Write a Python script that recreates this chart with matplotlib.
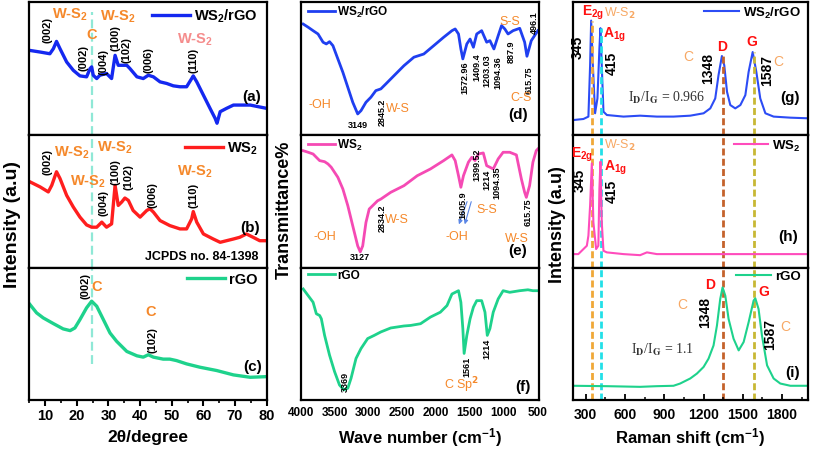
import matplotlib
matplotlib.use('Agg')
import matplotlib.pyplot as plt
from matplotlib.ticker import MultipleLocator

plt.rcParams['font.family'] = ['Liberation Sans', 'DejaVu Sans']
plt.rcParams['font.weight'] = 'bold'
plt.rcParams['mathtext.fontset'] = 'custom'
plt.rcParams['mathtext.rm'] = 'Liberation Sans:bold'
plt.rcParams['mathtext.bf'] = 'Liberation Sans:bold'
plt.rcParams['mathtext.it'] = 'Liberation Sans:bold:italic'
plt.rcParams['mathtext.default'] = 'rm'

# ---------------- data ----------------
# XRD, 2theta (deg) / intensity (a.u., 0-100 per panel)
xrd_ws2rgo_2t = [5.2, 8.4, 11.5, 12.6, 13.6, 14.7, 16.8, 18.9, 21.0, 23.1, 24.2, 24.7, 25.2, 26.3,
                 27.3, 29.4, 31.0, 32.1, 33.1, 34.7, 35.8, 36.8, 39.0, 41.0, 42.6, 44.2, 46.3, 48.4,
                 50.5, 52.6, 54.7, 56.3, 56.8, 57.9, 60.0, 62.1, 63.7, 64.3, 65.3, 67.3, 69.5, 74.8, 80.0]
xrd_ws2rgo_i = [63.7, 62.5, 61.2, 65.0, 70.5, 65.0, 55.0, 48.7, 44.5, 43.8, 50.0, 51.3, 45.0, 42.5,
                45.0, 46.3, 42.5, 60.0, 52.5, 52.5, 52.5, 50.0, 43.8, 42.5, 45.0, 43.8, 40.0, 38.8,
                37.0, 36.3, 36.3, 42.5, 44.5, 40.0, 30.0, 20.0, 12.5, 8.8, 17.5, 20.0, 22.5, 22.5, 20.0]

xrd_ws2_2t = [5.2, 8.4, 11.0, 12.1, 13.6, 14.7, 16.8, 18.9, 21.0, 23.1, 24.7, 26.3, 27.9, 29.4,
              31.0, 32.1, 33.1, 34.2, 35.2, 36.3, 37.8, 40.0, 42.1, 43.1, 44.2, 46.3, 49.4, 52.6,
              54.7, 56.3, 56.8, 57.9, 60.0, 63.1, 65.3, 67.3, 69.5, 71.5, 73.6, 75.7, 77.8, 80.0]
xrd_ws2_i = [64.6, 60.8, 57.0, 62.0, 72.2, 67.1, 54.4, 45.6, 38.0, 32.1, 30.4, 30.4, 34.2, 30.4,
             32.9, 62.0, 46.8, 49.4, 52.4, 50.6, 43.0, 38.0, 43.0, 44.3, 41.8, 35.4, 31.6, 29.1,
             29.1, 36.7, 42.2, 34.2, 25.3, 21.5, 19.0, 20.2, 21.5, 22.8, 25.3, 22.8, 20.2, 20.2]

xrd_rgo_2t = [5.2, 7.3, 9.4, 12.6, 15.7, 17.9, 19.4, 21.0, 23.1, 24.7, 26.3, 28.4, 30.5, 32.6,
              35.8, 39.0, 41.0, 42.6, 44.2, 47.3, 49.4, 51.5, 54.7, 58.9, 64.2, 69.5, 74.8, 80.0]
xrd_rgo_i = [72.1, 65.8, 62.0, 57.7, 53.7, 52.4, 54.4, 60.7, 69.6, 74.6, 70.8, 60.7, 50.6, 44.3,
             36.7, 33.4, 32.4, 34.2, 32.4, 30.9, 30.9, 29.8, 27.3, 24.8, 22.3, 19.0, 17.2, 17.7]

# FTIR, wavenumber (cm-1) / transmittance (0-100 per panel)
ftir_ws2rgo_wn = [3963, 3890, 3817, 3744, 3670, 3622, 3574, 3524, 3451, 3377, 3304, 3231, 3158, 3109,
                  3036, 2963, 2890, 2816, 2743, 2621, 2475, 2328, 2182, 2035, 1889, 1766, 1718, 1669,
                  1634, 1605, 1546, 1498, 1449, 1400, 1327, 1253, 1205, 1146, 1083, 1033, 985, 937,
                  863, 765, 692, 658, 594, 546, 497]
ftir_ws2rgo_t = [83.6, 81.2, 78.6, 76.1, 69.9, 68.6, 70.3, 67.3, 57.3, 47.2, 35.9, 24.6, 15.8, 18.3,
                 24.6, 28.4, 33.4, 34.7, 38.4, 44.7, 52.2, 58.6, 61.0, 67.3, 73.6, 78.6, 79.9, 76.1,
                 64.8, 57.3, 68.6, 72.3, 66.1, 76.1, 78.6, 69.9, 71.1, 64.8, 74.8, 82.4, 79.9, 76.1,
                 78.6, 80.4, 69.9, 59.3, 71.1, 74.8, 78.6]

ftir_ws2_wn = [3963, 3890, 3817, 3769, 3720, 3647, 3597, 3549, 3451, 3377, 3304, 3231, 3158, 3120,
               3084, 3036, 2988, 2938, 2865, 2816, 2670, 2475, 2279, 2084, 1889, 1766, 1718, 1669,
               1634, 1596, 1523, 1473, 1425, 1376, 1303, 1253, 1205, 1156, 1083, 1010, 912, 814,
               740, 692, 667, 619, 570, 521, 497]
ftir_ws2_t = [88.1, 86.9, 85.6, 83.1, 80.6, 79.8, 78.1, 75.6, 68.0, 59.2, 46.6, 31.4, 16.3, 11.8,
              16.3, 34.0, 44.1, 46.6, 50.3, 51.6, 56.7, 61.7, 69.2, 74.3, 80.6, 84.9, 80.6, 69.2,
              60.5, 69.2, 79.4, 83.1, 80.6, 85.6, 86.4, 76.8, 75.6, 74.3, 81.9, 86.9, 86.9, 84.9,
              66.7, 56.7, 52.9, 61.7, 79.4, 88.1, 89.4]

ftir_rgo_wn = [3963, 3890, 3817, 3769, 3720, 3695, 3647, 3574, 3500, 3427, 3363, 3304, 3256, 3183,
               3109, 3011, 2914, 2816, 2670, 2475, 2377, 2230, 2084, 1937, 1839, 1766, 1669, 1634,
               1605, 1586, 1546, 1498, 1449, 1400, 1327, 1278, 1244, 1205, 1156, 1083, 1010, 912,
               765, 644, 570, 497]
ftir_rgo_t = [83.8, 78.8, 73.8, 65.1, 63.8, 61.3, 48.8, 33.9, 21.5, 11.4, 7.7, 9.0, 16.5, 31.4,
              38.9, 46.4, 48.8, 51.4, 54.4, 55.9, 56.3, 57.6, 62.6, 66.3, 71.3, 80.0, 82.5, 73.8,
              53.9, 35.2, 48.8, 61.3, 70.1, 75.0, 75.0, 66.3, 48.8, 53.9, 66.3, 76.3, 82.5, 81.3,
              82.5, 83.2, 82.5, 82.5]

# Raman, shift (cm-1) / intensity (0-100 per panel)
raman_ws2rgo_x = [205, 282, 320, 333, 341, 354, 371, 389, 404, 412, 422, 435, 461, 588, 715, 843,
                  970, 1098, 1200, 1251, 1289, 1314, 1340, 1358, 1379, 1404, 1442, 1481, 1519, 1544,
                  1575, 1603, 1633, 1672, 1735, 1863, 2003]
raman_ws2rgo_i = [11.2, 12.0, 13.8, 52.5, 86.2, 52.5, 16.3, 27.5, 65.0, 80.5, 52.5, 17.5, 15.0, 13.8,
                  14.5, 13.8, 13.8, 14.5, 16.3, 20.0, 27.5, 45.0, 59.5, 52.5, 32.5, 22.5, 20.0, 22.5,
                  30.0, 47.5, 62.5, 47.5, 27.5, 16.3, 13.8, 13.0, 12.5]

raman_ws2_x = [205, 243, 282, 308, 320, 333, 346, 358, 379, 396, 404, 412, 422, 435, 461, 588, 715,
               767, 843, 970, 1226, 1480, 1735, 2003]
raman_ws2_i = [10.1, 10.1, 13.9, 16.4, 24.0, 46.8, 78.5, 34.2, 13.9, 16.4, 59.5, 79.8, 34.2, 12.6,
               11.4, 10.1, 9.3, 11.4, 10.1, 10.1, 10.1, 10.1, 10.1, 10.1]

raman_rgo_x = [205, 461, 715, 843, 970, 1021, 1098, 1149, 1200, 1238, 1276, 1302, 1327, 1345, 1366,
               1391, 1429, 1468, 1506, 1544, 1582, 1595, 1620, 1646, 1685, 1735, 1786, 1863, 2003]
raman_rgo_i = [10.8, 10.5, 10.0, 10.5, 10.8, 12.5, 16.3, 20.0, 25.0, 31.3, 41.2, 56.2, 76.2, 85.0,
               78.7, 61.2, 46.3, 37.5, 43.8, 58.7, 75.0, 76.8, 68.7, 48.7, 26.2, 16.3, 12.5, 10.8, 10.8]

# reference band positions
xrd_c002 = 24.7
raman_bands = [345, 415, 1348, 1587]
raman_band_tops_g = [86.2, 80.5, 59.5, 62.5]

# ---------------- figure ----------------
W, H = 813, 452
fig = plt.figure(figsize=(W / 100, H / 100), dpi=100)

col_x = [29.3, 300.7, 572.7]
col_r = [266.7, 539.0, 808.3]
top, ph = 3.3, 132.6


def make_ax(c, r):
    l = col_x[c] / W
    w = (col_r[c] - col_x[c]) / W
    b = 1 - (top + (r + 1) * ph) / H
    ax = fig.add_axes([l, b, w, ph / H])
    for s in ax.spines.values():
        s.set_linewidth(1.6)
    ax.set_yticks([])
    ax.set_ylim(0, 100)
    if r < 2:
        ax.tick_params(axis='x', which='both', bottom=False, labelbottom=False)
    return ax


def ftext(px, py, s, **kw):
    kw.setdefault('ha', 'center')
    kw.setdefault('va', 'center')
    return fig.text(px / W, 1 - py / H, s, **kw)


BLUE = '#1428f0'
RED = '#ff1e1e'
GREEN = '#1ed28c'
PINK = '#f54ab4'
ORANGE = '#f5882a'
LORANGE = '#f7a864'
RRED = '#ff1010'

# ---------- XRD column ----------
xrd = [(xrd_ws2rgo_2t, xrd_ws2rgo_i, BLUE, 'WS$_2$/rGO'),
       (xrd_ws2_2t, xrd_ws2_i, RED, 'WS$_2$'),
       (xrd_rgo_2t, xrd_rgo_i, GREEN, 'rGO')]
cyan_rng = [(0, 0.925), (0, 1), (0.27, 1)]
for r, (x, y, col, lab) in enumerate(xrd):
    ax = make_ax(0, r)
    ax.set_xlim(5, 80)
    ax.axvline(xrd_c002, ymin=cyan_rng[r][0], ymax=cyan_rng[r][1], color='#8fe8d6',
               lw=1.6, ls=(0, (4, 2)), zorder=1)
    ax.plot(x, y, color=col, lw=2.4, label=lab, zorder=2)
    ax.legend(loc='upper right', bbox_to_anchor=(1.0, 1.03), frameon=False, fontsize=10.5,
              handlelength=2.6, handletextpad=0.3, borderaxespad=0.2)
    if r == 2:
        ax.xaxis.set_major_locator(MultipleLocator(10))
        ax.xaxis.set_minor_locator(MultipleLocator(5))
        ax.tick_params(axis='x', which='major', direction='out', length=4, width=1.5,
                       labelsize=10.5, pad=2)
        ax.tick_params(axis='x', which='minor', direction='out', length=2.5, width=1.2)

# ---------- FTIR column ----------
ftir = [(ftir_ws2rgo_wn, ftir_ws2rgo_t, '#1f3ff0', 'WS$_2$/rGO'),
        (ftir_ws2_wn, ftir_ws2_t, PINK, 'WS$_2$'),
        (ftir_rgo_wn, ftir_rgo_t, GREEN, 'rGO')]
for r, (x, y, col, lab) in enumerate(ftir):
    ax = make_ax(1, r)
    ax.set_xlim(4000, 480)
    ax.plot(x, y, color=col, lw=2.0, label=lab)
    ax.legend(loc='upper left', bbox_to_anchor=(0.0, 1.04), frameon=False, fontsize=8.5,
              handlelength=2.3, handletextpad=0.2, borderaxespad=0.2)
    if r == 2:
        ax.set_xticks([4000, 3500, 3000, 2500, 2000, 1500, 1000, 500])
        ax.tick_params(axis='x', length=0, labelsize=8.5, pad=4)

# ---------- Raman column ----------
raman = [(raman_ws2rgo_x, raman_ws2rgo_i, '#2c4cf5', 'WS$_2$/rGO'),
         (raman_ws2_x, raman_ws2_i, '#ff4cbc', 'WS$_2$'),
         (raman_rgo_x, raman_rgo_i, GREEN, 'rGO')]
band_cols = ['#f0a838', '#22e0e8', '#c4622c', '#c8b834']
for r, (x, y, col, lab) in enumerate(raman):
    ax = make_ax(2, r)
    ax.set_xlim(200, 2000)
    for k, bx in enumerate(raman_bands):
        ymax = raman_band_tops_g[k] / 100 if r == 0 else 1
        ax.axvline(bx, ymin=0, ymax=ymax, color=band_cols[k], lw=2.0, ls=(0, (2.5, 1.2)),
                   zorder=3 if r == 0 else 1)
    ax.plot(x, y, color=col, lw=1.5, label=lab, zorder=2)
    ax.legend(loc='upper right', bbox_to_anchor=(1.0, 1.04), frameon=False, fontsize=9.5,
              handlelength=2.6, handletextpad=0.3, borderaxespad=0.2)
    if r == 2:
        ax.xaxis.set_major_locator(MultipleLocator(300))
        ax.xaxis.set_minor_locator(MultipleLocator(150))
        ax.tick_params(axis='x', which='major', direction='in', length=4, width=1.3,
                       labelsize=10, pad=5)
        ax.tick_params(axis='x', which='minor', direction='in', length=2.5, width=1.1)

# ---------- axis titles ----------
ftext(13, 225, 'Intensity (a.u)', rotation=90, fontsize=14)
ftext(284, 210, 'Transmittance%', rotation=90, fontsize=13)
ftext(557, 225, 'Intensity (a.u)', rotation=90, fontsize=13)
ftext(148, 438, '2θ/degree', fontsize=12.5)
ftext(420, 438, 'Wave number (cm$^{-1}$)', fontsize=12)
ftext(690, 438, 'Raman shift (cm$^{-1}$)', fontsize=12)

# ---------- XRD annotations ----------
mk = dict(rotation=90, fontsize=8)
# (a)
ftext(70, 15, 'W-S$_2$', color=ORANGE, fontsize=10.5)
ftext(118, 17, 'W-S$_2$', color=ORANGE, fontsize=10.5)
ftext(92, 35, 'C', color=ORANGE, fontsize=10.5)
ftext(195, 40, 'W-S$_2$', color='#f58c8c', fontsize=10.5)
ftext(47, 30, '(002)', **mk)
ftext(83, 58, '(002)', **mk)
ftext(103, 62, '(004)', **mk)
ftext(115, 38, '(100)', **mk)
ftext(127, 50, '(102)', **mk)
ftext(148, 60, '(006)', **mk)
ftext(193, 60, '(110)', **mk)
ftext(252, 97, '(a)', fontsize=11)
# (b)
ftext(47, 162, '(002)', **mk)
ftext(72, 153, 'W-S$_2$', color=ORANGE, fontsize=10.5)
ftext(115, 148, 'W-S$_2$', color=ORANGE, fontsize=10.5)
ftext(88, 182, 'W-S$_2$', color=ORANGE, fontsize=10.5)
ftext(115, 172, '(100)', **mk)
ftext(128, 177, '(102)', **mk)
ftext(103, 203, '(004)', **mk)
ftext(152, 195, '(006)', **mk)
ftext(195, 172, 'W-S$_2$', color=ORANGE, fontsize=10.5)
ftext(193, 195, '(110)', **mk)
ftext(250, 228, '(b)', fontsize=11)
ftext(202, 257, 'JCPDS no. 84-1398', fontsize=9)
# (c)
ftext(85, 286, '(002)', **mk)
ftext(97, 287, 'C', color=ORANGE, fontsize=10.5)
ftext(151, 312, 'C', color=ORANGE, fontsize=10.5)
ftext(152, 340, '(102)', **mk)
ftext(253, 367, '(c)', fontsize=11)

# ---------- FTIR annotations ----------
sm = dict(fontsize=6.5)
smr = dict(fontsize=6.5, rotation=90)
oo = dict(color=ORANGE, fontsize=9, fontweight='normal')
# (d)
ftext(320, 105, '-OH', **oo)
ftext(358, 126, '3149', **sm)
ftext(382, 112, '2845.2', **smr)
ftext(398, 109, 'W-S', **oo)
ftext(465, 78, '1572.96', **smr)
ftext(477, 67, '1409.4', **smr)
ftext(487, 71, '1203.03', **smr)
ftext(498, 73, '1094.36', **smr)
ftext(511, 52, '887.9', **smr)
ftext(510, 22, 'S-S', **oo)
ftext(534, 23, '496.1', **smr)
ftext(529, 80, '615.75', **smr)
ftext(521, 98, 'C-S', **oo)
ftext(518, 115, '(d)', fontsize=11)
# (e)
ftext(325, 237, '-OH', **oo)
ftext(360, 258, '3127', **sm)
ftext(382, 218, '2834.2', **smr)
ftext(397, 220, 'W-S', **oo)
ftext(463, 205, '1605.9', **smr)
ftext(457, 237, '-OH', **oo)
ftext(477, 165, '1399.52', **smr)
ftext(487, 180, '1214', **smr)
ftext(497, 183, '1094.35', **smr)
ftext(487, 210, 'S-S', **oo)
ftext(528, 212, '615.75', **smr)
ftext(517, 239, 'W-S', **oo)
ftext(518, 251, '(e)', fontsize=11)
for (x0, y0, x1, y1) in [(468, 200, 458, 228), (472, 200, 464, 228)]:
    fig.add_artist(matplotlib.patches.FancyArrowPatch(
        (x0 / W, 1 - y0 / H), (x1 / W, 1 - y1 / H), transform=fig.transFigure,
        arrowstyle='-|>', mutation_scale=6, color='#5a86e6', lw=0.8))
# (f)
ftext(345, 382, '3369', **smr)
ftext(467, 367, '1561', **smr)
ftext(487, 349, '1214', **smr)
ftext(462, 385, 'C Sp$^2$', color=ORANGE, fontsize=9, fontweight='normal',
      math_fontfamily='dejavusans')
ftext(523, 387, '(f)', fontsize=11)

# ---------- Raman annotations ----------
rr = dict(color=RRED, fontsize=10)
nr = dict(rotation=90, fontsize=10)
oc = dict(color=LORANGE, fontsize=10, fontweight='normal')
ser = dict(family='Liberation Serif', fontweight='normal', fontsize=10,
           math_fontfamily='stix', color='#333333')
# (g)
ftext(593, 13, 'E$_{2g}$', **rr)
ftext(620, 13, 'W-S$_2$', color=LORANGE, fontsize=9, fontweight='normal',
      math_fontfamily='dejavusans')
ftext(614, 35, 'A$_{1g}$', **rr)
ftext(578, 47, '345', **nr)
ftext(612, 63, '415', **nr)
ftext(688, 57, 'C', **oc)
ftext(708, 68, '1348', **nr)
ftext(722, 47, 'D', **rr)
ftext(752, 42, 'G', **rr)
ftext(767, 70, '1587', **nr)
ftext(778, 62, 'C', **oc)
ftext(667, 98, r'I$_{\rm D}$/I$_{\rm G}$ = 0.966', **ser)
ftext(790, 98, '(g)', fontsize=11)
# (h)
ftext(620, 145, 'W-S$_2$', color=LORANGE, fontsize=9, fontweight='normal',
      math_fontfamily='dejavusans')
ftext(582, 155, 'E$_{2g}$', **rr)
ftext(615, 168, 'A$_{1g}$', **rr)
ftext(580, 180, '345', **nr)
ftext(612, 191, '415', **nr)
ftext(788, 237, '(h)', fontsize=11)
# (i)
ftext(710, 285, 'D', **rr)
ftext(764, 292, 'G', **rr)
ftext(682, 305, 'C', **oc)
ftext(705, 313, '1348', **nr)
ftext(770, 335, '1587', **nr)
ftext(785, 327, 'C', **oc)
ftext(662, 350, r'I$_{\rm D}$/I$_{\rm G}$ = 1.1', **ser)
ftext(793, 373, '(i)', fontsize=11)

fig.savefig('out.png', dpi=100)
